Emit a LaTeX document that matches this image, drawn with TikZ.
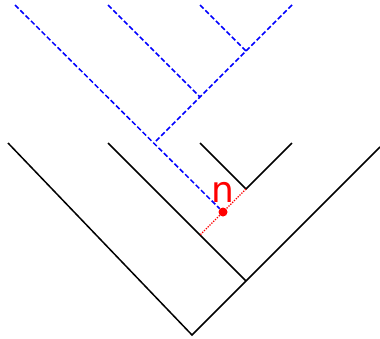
\documentclass[tikz,border=0pt]{standalone}
\usepackage{fontspec}
\setsansfont{DejaVu Sans}
\usetikzlibrary{positioning}

\begin{document}
\begin{tikzpicture}[x=1pt, y=-1pt,
    edge/.style={black, line width=1.5pt},
    blueedge/.style={blue, dash pattern=on 5pt off 2.5pt, line width=1.5pt},
    rededge/.style={red, dash pattern=on 1.3pt off 1.3pt, line width=1.3pt},
    point/.style={circle, fill=red, inner sep=0pt, minimum size=9pt},
    lbl/.style={text=red, font=\sffamily\fontsize{36}{36}\selectfont, inner sep=0pt}]

    \useasboundingbox (0,0) rectangle (380,338);

    % lower tree
    \coordinate (root) at (192,335);
    \coordinate (left) at (8,143);
    \coordinate (right) at (380,147);
    \coordinate (mid) at (246,281);
    \coordinate (midtop) at (108,143);
    \coordinate (small) at (246,189);
    \coordinate (smallL) at (200,143);
    \coordinate (smallR) at (292,143);
    \coordinate (foot) at (200,235);

    % upper tree
    \coordinate (top1) at (15,5);
    \coordinate (top2) at (108,5);
    \coordinate (top3) at (200,5);
    \coordinate (top4) at (292,5);
    \coordinate (j1) at (155,142);
    \coordinate (j2) at (200,97);
    \coordinate (j3) at (246,51);

    \node (n) [point] at (223,212) {};
    \node (nlabel) [lbl, above=5pt of n] {n};

    \draw [edge] (left) -- (root) -- (right);
    \draw [edge] (midtop) -- (mid);
    \draw [edge] (smallL) -- (small) -- (smallR);

    \draw [blueedge] (top1) -- (n);
    \draw [blueedge] (top4) -- (j1);
    \draw [blueedge] (top2) -- (j2);
    \draw [blueedge] (top3) -- (j3);

    \draw [rededge] (small) -- (n);
    \draw [rededge] (n) -- (foot);
\end{tikzpicture}
\end{document}
